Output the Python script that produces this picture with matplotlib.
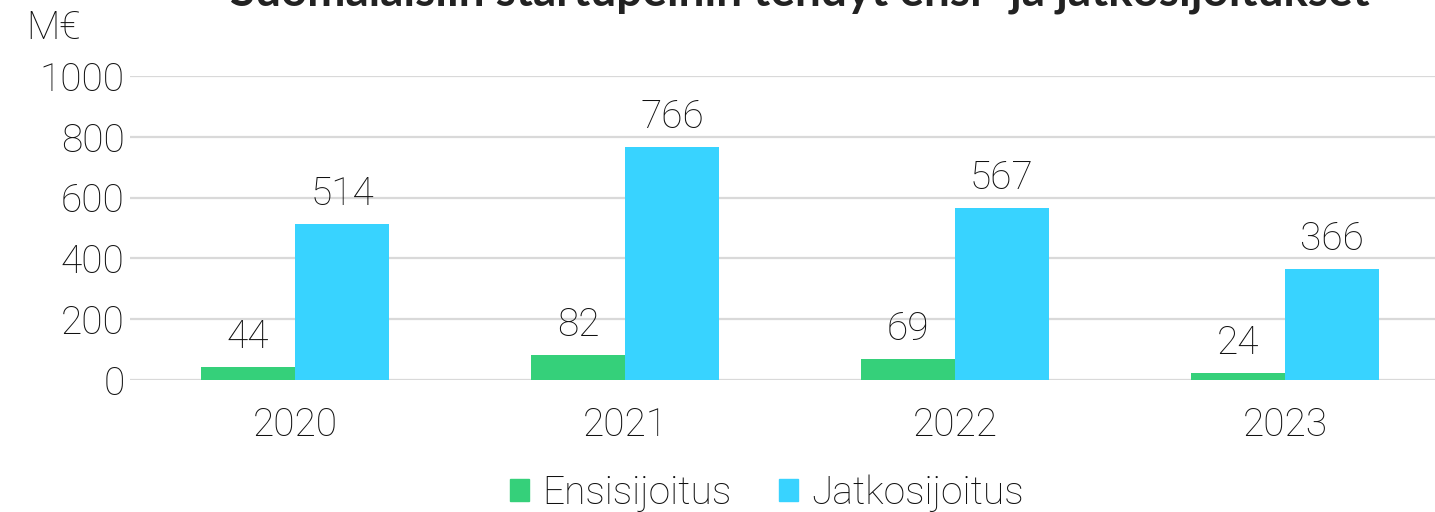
#!/usr/bin/env python3
"""Ensi- ja jatkosijoitukset suomalaisiin startupeihin, 2020-2023."""

import matplotlib.pyplot as plt
import numpy as np
from matplotlib.patches import Patch

years = ["2020", "2021", "2022", "2023"]
first_round = [44, 82, 69, 24]
follow_on = [514, 766, 567, 366]
series_names = ["Ensisijoitus", "Jatkosijoitus"]

GREEN = "#35D07A"
BLUE = "#38D3FF"
INK = "#111111"
FS = 28
WEIGHT = "light"

plt.rcParams["font.family"] = ["Roboto", "DejaVu Sans"]

fig = plt.figure(figsize=(14.35, 5.12), dpi=100)
ax = fig.add_axes([130 / 1435, 1 - 380 / 512, 1 - 130 / 1435, 304 / 512])

x = np.arange(len(years))
width = 0.285
bars1 = ax.bar(x - width / 2, first_round, width, color=GREEN, zorder=3)
bars2 = ax.bar(x + width / 2, follow_on, width, color=BLUE, zorder=3)

for bars in (bars1, bars2):
    for b in bars:
        ax.annotate(
            f"{int(b.get_height())}",
            (b.get_x() + b.get_width() / 2, b.get_height()),
            xytext=(0, 8),
            textcoords="offset points",
            ha="center",
            va="bottom",
            fontsize=FS,
            fontweight=WEIGHT,
            color=INK,
        )

ax.set_ylim(0, 1000)
ax.set_xlim(-0.5, 3.455)
ax.set_yticks(range(0, 1001, 200))
ax.set_xticks(x)
ax.set_xticklabels(years)
ax.tick_params(axis="both", length=0, labelsize=FS, colors=INK)
ax.tick_params(axis="x", pad=19)
ax.tick_params(axis="y", pad=4)
for lbl in ax.get_xticklabels() + ax.get_yticklabels():
    lbl.set_fontweight(WEIGHT)

ax.grid(axis="y", color="#D9D9D9", linewidth=1.6, zorder=0)
for s in ax.spines.values():
    s.set_visible(False)

ax.text(54 / 1435, 1 - 28 / 512, "M€", transform=fig.transFigure, ha="center", va="center",
        fontsize=FS, fontweight=WEIGHT, color=INK)

# the title sits mostly above the top edge, as in the source image
fig.text(800 / 1435, 1 - 6 / 512, "Suomalaisiin startupeihin tehdyt ensi- ja jatkosijoitukset",
         ha="center", va="baseline", fontsize=33, fontweight="bold", color="#222222",
         family=["Lato", "DejaVu Sans"])

handles = [Patch(color=GREEN), Patch(color=BLUE)]
fig.legend(
    handles,
    series_names,
    loc="center",
    bbox_to_anchor=(767 / 1435, 1 - 493 / 512),
    ncol=2,
    frameon=False,
    handlelength=0.5,
    handleheight=0.5,
    handletextpad=0.35,
    columnspacing=1.2,
    prop={"size": FS, "weight": WEIGHT},
    labelcolor=INK,
)

fig.savefig("out.png", dpi=100)
